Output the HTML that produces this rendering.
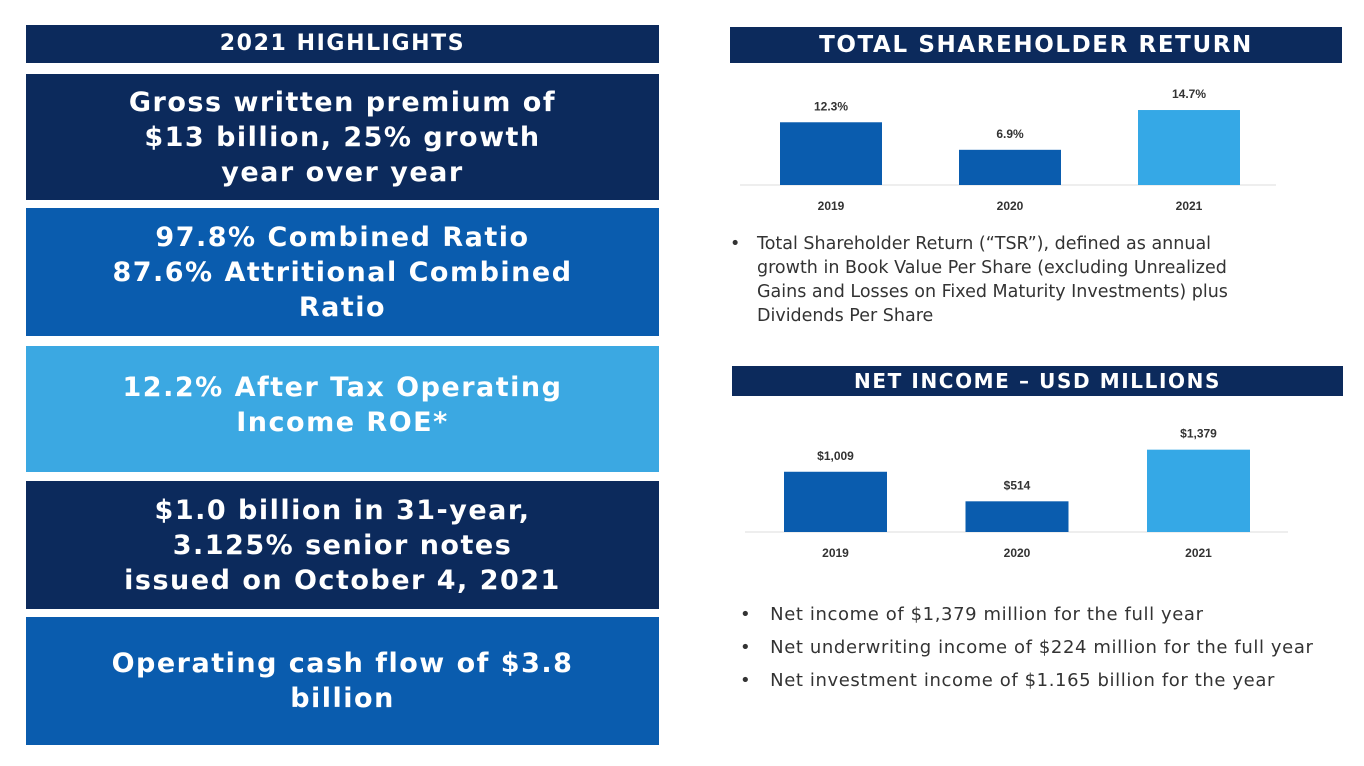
<!DOCTYPE html>
<html><head><meta charset="utf-8">
<style>
body{margin:0;width:1364px;height:766px;background:#fff;position:relative;overflow:hidden;font-family:"DejaVu Sans","Liberation Sans",sans-serif;}
.box{position:absolute;left:26px;width:633px;color:#fff;font-weight:bold;text-align:center;display:flex;align-items:center;justify-content:center;font-size:27px;line-height:35px;letter-spacing:1.5px;}
.dark{background:#0c2a5c}.mid{background:#0a5cae}.light{background:#3ba8e2}
.hdr{position:absolute;background:#0c2a5c;color:#fff;font-weight:bold;text-align:center;letter-spacing:1.6px;}
.txt{position:absolute;color:#333;font-family:"DejaVu Sans","Liberation Sans",sans-serif;font-size:17px;line-height:24px;}
svg text{font-family:"Liberation Sans",sans-serif;font-weight:bold;font-size:12px;fill:#333;}
</style></head><body>
<div class="hdr" style="left:26px;top:25px;width:633px;height:38px;line-height:38px;font-size:22px;">2021 HIGHLIGHTS</div>
<div class="box dark" style="top:74px;height:126px;">Gross written premium of<br>$13 billion, 25% growth<br>year over year</div>
<div class="box mid" style="top:208px;height:128px;">97.8% Combined Ratio<br>87.6% Attritional Combined<br>Ratio</div>
<div class="box light" style="top:346px;align-items:flex-start;padding-top:24px;height:102px;">12.2% After Tax Operating<br>Income ROE*</div>
<div class="box dark" style="top:481px;height:128px;">$1.0 billion in 31-year,<br>3.125% senior notes<br>issued on October 4, 2021</div>
<div class="box mid" style="top:617px;height:128px;">Operating cash flow of $3.8<br>billion</div>

<div class="hdr" style="left:730px;top:27px;width:612px;height:36px;line-height:36px;font-size:23px;">TOTAL SHAREHOLDER RETURN</div>
<svg id="tsr" style="position:absolute;left:0;top:0" width="1364" height="766"></svg>
<div class="txt" style="left:730px;top:232px;width:620px;font-size:17.5px;white-space:nowrap;"><span style="position:absolute;left:0">•</span><div style="padding-left:27px">Total Shareholder Return (“TSR”), defined as annual<br>growth in Book Value Per Share (excluding Unrealized<br>Gains and Losses on Fixed Maturity Investments) plus<br>Dividends Per Share</div></div>

<div class="hdr" style="left:732px;top:366px;width:611px;height:30px;line-height:30px;font-size:20px;">NET INCOME – USD MILLIONS</div>
<div class="txt" style="left:740px;top:598px;line-height:33px;font-size:18px;letter-spacing:0.6px;white-space:nowrap;">
<div>•&nbsp;&nbsp; Net income of $1,379 million for the full year</div>
<div>•&nbsp;&nbsp; Net underwriting income of $224 million for the full year</div>
<div>•&nbsp;&nbsp; Net investment income of $1.165 billion for the year</div></div>
<script>
const years=["2019","2020","2021"];
const tsrValues=[12.3,6.9,14.7];
const tsrLabels=["12.3%","6.9%","14.7%"];
const niValues=[1009,514,1379];
const niLabels=["$1,009","$514","$1,379"];
const colors=["#0a5cae","#0a5cae","#35a8e6"];
function draw(svg,vals,labs,o){
 const ns="http://www.w3.org/2000/svg";
 const l=document.createElementNS(ns,"line");
 
 
 l.setAttribute("x1",o.ax0);l.setAttribute("x2",o.ax1);l.setAttribute("y1",o.base);l.setAttribute("y2",o.base);l.setAttribute("stroke","#ddd");svg.appendChild(l);
 vals.forEach((v,i)=>{
  const x=o.x0+i*o.step,h=v*o.scale;
  const r=document.createElementNS(ns,"rect");
  
  
  r.setAttribute("x",x);r.setAttribute("y",o.base-h);r.setAttribute("width",o.w);r.setAttribute("height",h);r.setAttribute("fill",colors[i]);svg.appendChild(r);
  const t=document.createElementNS(ns,"text");
  
  
  t.setAttribute("x",x+o.w/2);t.setAttribute("y",o.base-h-12);t.setAttribute("text-anchor","middle");t.textContent=labs[i];svg.appendChild(t);
  const y=document.createElementNS(ns,"text");
  
  
  y.setAttribute("x",x+o.w/2);y.setAttribute("y",o.base+25);y.setAttribute("text-anchor","middle");y.textContent=years[i];svg.appendChild(y);
 });
}
const s=document.getElementById("tsr");
draw(s,tsrValues,tsrLabels,{x0:780,step:179,w:102,base:185,scale:5.1,ax0:740,ax1:1276});
draw(s,niValues,niLabels,{x0:784,step:181.5,w:103,base:532,scale:0.0597,ax0:745,ax1:1288});
</script>
</body></html>
